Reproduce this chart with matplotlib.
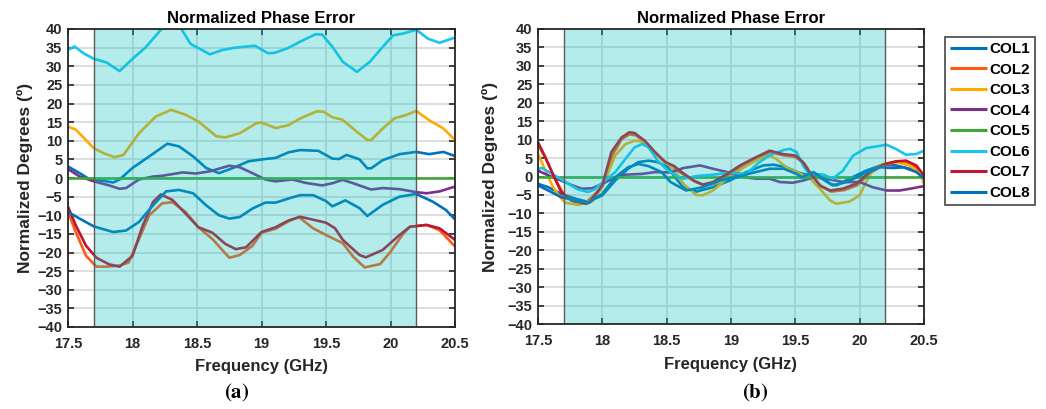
import matplotlib
matplotlib.use("Agg")
import matplotlib.pyplot as plt

# ---------------- data ----------------
series_names = ["COL1", "COL2", "COL3", "COL4", "COL5", "COL6", "COL7", "COL8"]
series_colors = ["#0072BD", "#FF5A14", "#FFAA00", "#7E2F8E", "#3FA535", "#18C3F0", "#C0142F", "#0072BD"]

# (a) panel
a_col1_f = [17.5, 17.59, 17.67, 17.78, 17.85, 17.9, 18.0, 18.13, 18.27, 18.36, 18.47, 18.57, 18.67, 18.78, 18.9, 19.03, 19.11, 19.21, 19.3, 19.44, 19.55, 19.6, 19.66, 19.76, 19.82, 19.85, 19.94, 20.07, 20.2, 20.3, 20.41, 20.5]
a_col1_v = [3.1, 1.3, -0.4, -0.8, -1.2, -0.4, 2.7, 5.8, 9.2, 8.5, 5.8, 2.7, 1.3, 2.7, 4.5, 5.1, 5.4, 6.9, 7.5, 7.3, 5.2, 5.1, 6.2, 5.0, 2.6, 2.6, 4.8, 6.4, 7.0, 6.4, 7.0, 5.9]

a_col2_f = [17.5, 17.56, 17.64, 17.72, 17.8, 17.9, 17.97, 18.05, 18.13, 18.23, 18.31, 18.41, 18.51, 18.62, 18.75, 18.83, 18.93, 19.0, 19.11, 19.21, 19.29, 19.4, 19.5, 19.63, 19.71, 19.8, 19.92, 20.0, 20.1, 20.15, 20.28, 20.38, 20.5]
a_col2_v = [-9.1, -14.5, -20.9, -23.8, -23.8, -23.5, -22.7, -16.4, -10.0, -6.8, -6.5, -9.1, -13.2, -16.4, -21.4, -20.7, -18.2, -14.7, -13.6, -11.6, -10.5, -13.5, -15.3, -17.5, -21.1, -24.0, -23.1, -19.8, -14.9, -13.1, -12.6, -14.0, -18.4]

a_col3_f = [17.5, 17.56, 17.63, 17.7, 17.78, 17.86, 17.93, 18.05, 18.18, 18.3, 18.41, 18.51, 18.65, 18.72, 18.83, 18.96, 19.0, 19.11, 19.21, 19.3, 19.43, 19.48, 19.55, 19.63, 19.74, 19.82, 19.85, 19.94, 20.03, 20.12, 20.2, 20.3, 20.41, 20.5]
a_col3_v = [13.8, 13.0, 10.5, 8.0, 6.6, 5.6, 6.2, 12.0, 16.5, 18.3, 17.0, 15.2, 11.2, 10.9, 12.0, 14.7, 14.9, 13.4, 14.2, 16.0, 17.9, 17.8, 16.3, 15.6, 12.4, 10.2, 10.2, 13.3, 16.0, 16.9, 18.0, 15.5, 13.3, 10.2]

a_col4_f = [17.5, 17.59, 17.7, 17.82, 17.9, 17.95, 18.05, 18.16, 18.23, 18.39, 18.49, 18.6, 18.75, 18.83, 18.93, 19.03, 19.11, 19.24, 19.34, 19.47, 19.55, 19.63, 19.71, 19.85, 19.94, 20.07, 20.2, 20.28, 20.38, 20.5]
a_col4_v = [2.4, 0.4, -0.9, -2.0, -2.9, -2.7, -0.4, 0.4, 0.6, 1.5, 1.2, 1.8, 3.3, 2.9, 1.3, -0.4, -0.9, -0.4, -1.3, -2.0, -1.4, -0.5, -1.4, -3.1, -2.7, -3.0, -3.8, -4.1, -3.6, -2.3]

a_col5_f = [17.5, 20.5]
a_col5_v = [0.0, 0.0]

a_col6_f = [17.5, 17.55, 17.62, 17.7, 17.8, 17.9, 18.0, 18.1, 18.2, 18.25, 18.3, 18.37, 18.45, 18.6, 18.7, 18.8, 18.95, 19.05, 19.1, 19.2, 19.3, 19.42, 19.47, 19.55, 19.63, 19.74, 19.84, 19.94, 20.02, 20.1, 20.2, 20.29, 20.38, 20.5]
a_col6_v = [34.4, 35.3, 33.5, 32.0, 31.0, 28.7, 32.0, 35.0, 39.0, 41.0, 42.0, 40.5, 36.0, 33.2, 34.4, 35.0, 35.5, 33.5, 33.6, 34.8, 36.6, 38.6, 38.5, 35.2, 31.2, 28.5, 31.2, 35.2, 38.3, 38.8, 39.8, 37.4, 36.3, 37.7]

a_col7_f = [17.5, 17.56, 17.64, 17.72, 17.82, 17.9, 18.0, 18.08, 18.16, 18.22, 18.31, 18.41, 18.51, 18.62, 18.72, 18.8, 18.88, 19.0, 19.11, 19.21, 19.3, 19.4, 19.5, 19.57, 19.63, 19.76, 19.81, 19.94, 20.07, 20.15, 20.28, 20.38, 20.5]
a_col7_v = [-7.7, -12.7, -18.2, -21.4, -23.2, -23.8, -20.9, -12.7, -6.4, -4.4, -5.9, -9.5, -13.2, -14.7, -17.7, -19.1, -18.6, -14.5, -13.2, -11.4, -10.4, -11.2, -12.0, -13.5, -16.6, -20.7, -21.3, -19.3, -15.3, -13.1, -12.6, -13.5, -16.6]

a_col8_f = [17.5, 17.59, 17.7, 17.85, 17.95, 18.05, 18.16, 18.26, 18.36, 18.47, 18.57, 18.67, 18.75, 18.83, 18.93, 19.03, 19.11, 19.21, 19.3, 19.4, 19.5, 19.55, 19.65, 19.76, 19.82, 19.94, 20.07, 20.2, 20.33, 20.43, 20.5]
a_col8_v = [-9.1, -10.9, -13.0, -14.5, -14.1, -11.8, -7.3, -3.6, -3.2, -4.1, -7.3, -10.0, -10.9, -10.5, -8.2, -6.6, -6.6, -5.5, -4.6, -4.6, -6.2, -7.6, -6.0, -8.1, -10.2, -7.2, -5.0, -4.3, -6.4, -8.6, -11.1]

# (b) panel
b_col1_f = [17.5, 17.58, 17.68, 17.79, 17.89, 18.0, 18.1, 18.2, 18.28, 18.36, 18.43, 18.51, 18.56, 18.63, 18.73, 18.86, 18.99, 19.12, 19.25, 19.33, 19.43, 19.53, 19.61, 19.64, 19.69, 19.77, 19.82, 19.92, 20.05, 20.18, 20.28, 20.39, 20.47, 20.5]
b_col1_v = [-2.0, -2.9, -4.7, -6.0, -6.9, -5.1, -1.1, 2.1, 3.9, 4.3, 3.9, 2.5, 0.0, -3.0, -4.1, -2.9, -1.1, 1.2, 3.0, 3.2, 2.5, 1.0, 0.3, 0.7, -0.2, -2.0, -2.4, -0.6, 1.6, 3.2, 3.0, 2.1, 1.2, 0.3]

b_col2_f = [17.5, 17.56, 17.63, 17.7, 17.78, 17.87, 18.0, 18.08, 18.15, 18.21, 18.26, 18.34, 18.42, 18.5, 18.6, 18.72, 18.8, 18.88, 18.98, 19.08, 19.18, 19.3, 19.4, 19.5, 19.57, 19.62, 19.7, 19.78, 19.88, 19.98, 20.08, 20.18, 20.28, 20.36, 20.44, 20.5]
b_col2_v = [8.6, 5.0, -0.5, -4.8, -6.8, -7.2, -2.8, 5.9, 10.1, 11.4, 11.2, 9.1, 6.0, 3.5, 1.2, -1.4, -2.5, -1.9, 0.3, 2.6, 4.4, 6.6, 5.8, 5.3, 3.5, 0.8, -2.7, -4.1, -3.7, -2.4, 0.9, 3.0, 3.9, 4.0, 2.5, -0.3]

b_col3_f = [17.5, 17.54, 17.61, 17.66, 17.71, 17.81, 17.92, 18.0, 18.1, 18.18, 18.25, 18.31, 18.38, 18.46, 18.54, 18.63, 18.73, 18.78, 18.86, 18.97, 19.1, 19.22, 19.3, 19.35, 19.43, 19.51, 19.61, 19.69, 19.77, 19.82, 19.92, 20.0, 20.05, 20.1, 20.18, 20.28, 20.39, 20.47, 20.5]
b_col3_v = [6.1, 3.0, -2.4, -5.1, -7.1, -7.7, -6.8, -2.9, 5.7, 8.8, 9.7, 9.5, 7.5, 4.8, 2.5, -2.0, -5.0, -5.1, -3.8, -0.6, 2.5, 4.8, 5.7, 4.8, 2.5, 1.2, -0.4, -3.3, -6.5, -7.4, -6.8, -5.1, -1.5, 1.6, 3.4, 3.9, 3.0, 0.7, -2.0]

b_col4_f = [17.5, 17.58, 17.68, 17.76, 17.84, 17.92, 18.0, 18.1, 18.18, 18.31, 18.41, 18.53, 18.63, 18.76, 18.86, 18.97, 19.1, 19.2, 19.3, 19.38, 19.48, 19.56, 19.64, 19.74, 19.87, 20.0, 20.1, 20.21, 20.31, 20.41, 20.5]
b_col4_v = [1.6, 0.3, -1.1, -2.3, -3.3, -3.2, -2.0, -0.2, 0.5, 0.7, 1.2, 1.1, 2.3, 3.0, 2.1, 1.2, -0.2, -0.6, -0.6, -1.5, -1.7, -1.1, -0.2, -0.6, -1.5, -1.5, -2.9, -3.8, -3.8, -3.2, -2.6]

b_col5_f = [17.5, 20.5]
b_col5_v = [0.0, 0.0]

b_col6_f = [17.5, 17.53, 17.61, 17.71, 17.81, 17.89, 17.94, 18.02, 18.1, 18.18, 18.25, 18.31, 18.36, 18.43, 18.51, 18.56, 18.63, 18.73, 18.86, 18.99, 19.12, 19.22, 19.3, 19.41, 19.46, 19.51, 19.56, 19.61, 19.64, 19.72, 19.79, 19.87, 19.95, 20.05, 20.21, 20.28, 20.36, 20.44, 20.5]
b_col6_v = [2.1, 2.3, 0.7, -1.4, -3.5, -4.2, -3.5, -1.1, 1.2, 4.8, 7.9, 8.8, 7.9, 4.3, 1.6, 0.5, -0.6, 0.1, 0.5, 1.0, 0.7, 3.9, 5.7, 7.2, 7.5, 6.6, 3.0, 0.5, 0.7, 0.5, -0.6, 1.6, 5.7, 7.7, 8.6, 7.5, 5.9, 6.1, 7.0]

b_col7_f = [17.5, 17.55, 17.62, 17.68, 17.76, 17.87, 17.9, 18.0, 18.07, 18.15, 18.21, 18.25, 18.33, 18.41, 18.49, 18.56, 18.6, 18.71, 18.78, 18.86, 18.97, 19.07, 19.17, 19.3, 19.4, 19.5, 19.56, 19.61, 19.69, 19.77, 19.87, 19.97, 20.08, 20.18, 20.28, 20.36, 20.44, 20.5]
b_col7_v = [9.3, 5.7, 0.3, -4.2, -6.5, -7.4, -7.1, -2.4, 6.6, 10.6, 12.0, 11.8, 9.7, 6.6, 3.9, 2.8, 1.6, -1.1, -2.2, -1.5, 0.7, 3.0, 4.8, 7.0, 6.1, 5.7, 3.9, 1.2, -2.4, -3.8, -3.3, -2.0, 1.2, 3.2, 4.1, 4.3, 3.0, 0.3]

b_col8_f = [17.5, 17.58, 17.68, 17.79, 17.89, 18.0, 18.1, 18.2, 18.28, 18.36, 18.46, 18.53, 18.65, 18.78, 18.91, 19.04, 19.17, 19.3, 19.41, 19.51, 19.55, 19.64, 19.72, 19.79, 19.9, 20.03, 20.16, 20.26, 20.34, 20.44, 20.5]
b_col8_v = [-2.4, -3.8, -5.6, -6.5, -7.1, -4.7, -0.2, 2.5, 3.4, 2.8, 1.2, -1.5, -3.8, -2.9, -1.1, -0.2, 1.0, 2.1, 2.1, 0.7, -0.2, 1.2, -0.6, -2.4, -1.5, 0.7, 2.5, 2.3, 2.5, 1.2, -0.5]

panel_a = [(a_col1_f, a_col1_v), (a_col2_f, a_col2_v), (a_col3_f, a_col3_v), (a_col4_f, a_col4_v),
           (a_col5_f, a_col5_v), (a_col6_f, a_col6_v), (a_col7_f, a_col7_v), (a_col8_f, a_col8_v)]
panel_b = [(b_col1_f, b_col1_v), (b_col2_f, b_col2_v), (b_col3_f, b_col3_v), (b_col4_f, b_col4_v),
           (b_col5_f, b_col5_v), (b_col6_f, b_col6_v), (b_col7_f, b_col7_v), (b_col8_f, b_col8_v)]

band_start, band_end = 17.7, 20.2
x_ticks = [17.5, 18, 18.5, 19, 19.5, 20, 20.5]
x_tick_labels = ["17.5", "18", "18.5", "19", "19.5", "20", "20.5"]
y_ticks = list(range(-40, 41, 5))
title_text = "Normalized Phase Error"
xlabel_text = "Frequency (GHz)"
ylabel_text = "Normalized Degrees (º)"
panel_labels = ["a", "b"]

# ---------------- drawing ----------------
plt.rcParams["font.family"] = ["Liberation Sans", "DejaVu Sans"]
plt.rcParams["font.weight"] = "bold"
plt.rcParams["mathtext.fontset"] = "stix"

W, H = 1046, 409
fig = plt.figure(figsize=(W / 100, H / 100), dpi=100)

def px_axes(x0, x1, y0, y1):
    return fig.add_axes([x0 / W, 1 - y1 / H, (x1 - x0) / W, (y1 - y0) / H])

ax_a = px_axes(68, 455, 29, 327)
ax_b = px_axes(538, 924, 29, 324)

# label positions (pixels)
specs = [
    dict(ax=ax_a, panel=panel_a, lab=panel_labels[0], ylab_x=25, xlab_y=367, plab_x=237),
    dict(ax=ax_b, panel=panel_b, lab=panel_labels[1], ylab_x=490, xlab_y=365, plab_x=755),
]

dark = "#262626"
lines_for_legend = []
for sp in specs:
    ax = sp["ax"]
    ax.set_xlim(17.5, 20.5)
    ax.set_ylim(-40, 40)
    ax.set_xticks(x_ticks)
    ax.set_xticklabels(x_tick_labels)
    ax.set_yticks(y_ticks)
    ax.grid(True, color="#d4d4d4", linewidth=1.1, zorder=0)
    ax.set_axisbelow(True)
    handles = []
    for (f, v), name, col in zip(sp["panel"], series_names, series_colors):
        h, = ax.plot(f, v, color=col, linewidth=1.9, label=name, zorder=2, solid_capstyle="butt")
        handles.append(h)
    lines_for_legend = handles
    ax.axvspan(band_start, band_end, facecolor="#08C3C0", alpha=0.30, edgecolor="none", zorder=3)
    ax.axvline(band_start, color="#5a5a5a", linewidth=1.0, zorder=4)
    ax.axvline(band_end, color="#5a5a5a", linewidth=1.0, zorder=4)
    ax.tick_params(direction="in", length=4, width=1.2, top=True, right=True,
                   labelsize=10.5, colors=dark)
    ax.tick_params(axis="x", pad=7)
    ax.tick_params(axis="y", pad=4)
    for lbl in ax.get_xticklabels() + ax.get_yticklabels():
        lbl.set_fontweight("bold")
    for s in ax.spines.values():
        s.set_color(dark)
        s.set_linewidth(1.3)
        s.set_zorder(5)
    ax.set_title(title_text, fontsize=12, fontweight="bold", color="black", pad=4)
    ax.set_xlabel(xlabel_text, fontsize=12, fontweight="bold", color=dark, va="center")
    ax.set_ylabel(ylabel_text, fontsize=12.5, fontweight="bold", color=dark, va="center")
    bb = ax.get_position()
    ax.xaxis.set_label_coords(0.5, (1 - sp["xlab_y"] / H - bb.y0) / bb.height)
    ax.yaxis.set_label_coords((sp["ylab_x"] / W - bb.x0) / bb.width, 0.5)
    fig.text(sp["plab_x"] / W, 1 - 393 / H, r"$(\mathbf{" + sp["lab"] + r"})$",
             ha="center", va="center", fontsize=15, color="black")

leg = fig.legend(lines_for_legend, series_names, loc="upper left",
                 bbox_to_anchor=(945 / W, 1 - 37 / H), frameon=True, fancybox=False,
                 edgecolor="#555555", framealpha=1, prop={"weight": "bold", "size": 11},
                 handlelength=2.4, handletextpad=0.2, labelspacing=0.43,
                 borderpad=0.33, borderaxespad=0.0)
leg.get_frame().set_linewidth(1.3)
for lh in leg.get_lines():
    lh.set_linewidth(2.2)

fig.savefig("out.png", dpi=100)
